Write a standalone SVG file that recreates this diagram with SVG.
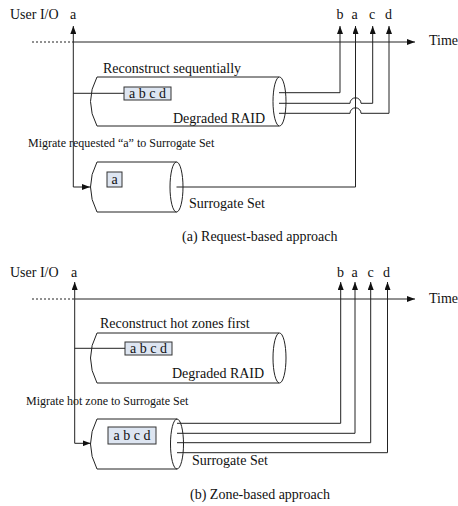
<svg xmlns="http://www.w3.org/2000/svg" width="458" height="506" viewBox="0 0 458 506" font-family="'Liberation Serif', 'Times New Roman', serif">
<defs>
<marker id="ah" viewBox="0 0 8 6" refX="8" refY="3" markerWidth="8" markerHeight="6" markerUnits="userSpaceOnUse" orient="auto">
<path d="M0,0 L8,3 L0,6 Z" fill="#111"/>
</marker>
</defs>
<style>
text{font-family:'Liberation Serif','Times New Roman',serif;fill:#111;font-size:14px}
.sm{font-size:12px}
.cyl{fill:none;stroke:#222;stroke-width:1}
.box{fill:#dde5f1;stroke:#333;stroke-width:1}
.ln{fill:none;stroke:#222;stroke-width:1}
.ar{fill:none;stroke:#222;stroke-width:1;marker-end:url(#ah)}
.dash{fill:none;stroke:#222;stroke-width:1;stroke-dasharray:2,2}
</style>
<rect width="458" height="506" fill="#fff"/>

<!-- Panel (a) -->
<g id="labels-a">
<text x="10" y="19">User I/O</text>
<text x="70" y="19">a</text>
<text x="336.5" y="19">b</text>
<text x="351.5" y="19">a</text>
<text x="369" y="19">c</text>
<text x="385" y="19">d</text>
<text x="429" y="45">Time</text>
<text class="sm" x="28" y="147">Migrate requested “a” to Surrogate Set</text>
<text x="182" y="241">(a) Request-based approach</text>
</g>

<g id="degraded-raid-a">
<path class="cyl" d="M279,77 L97,77 Q84,101.5 97,126 L279,126"/>
<ellipse class="cyl" cx="279.5" cy="101.5" rx="6.5" ry="24.5"/>
<text x="103" y="73">Reconstruct sequentially</text>
<text x="173" y="123">Degraded RAID</text>
<rect class="box" x="124" y="87" width="47" height="13"/>
<text x="147.5" y="98" text-anchor="middle">a b c d</text>
</g>

<g id="surrogate-set-a">
<path class="cyl" d="M176.5,162 L97,162 Q84,187 97,212 L176.5,212"/>
<ellipse class="cyl" cx="176.5" cy="187" rx="6.5" ry="25"/>
<rect class="box" x="107" y="172" width="15" height="15"/>
<text x="114.5" y="184" text-anchor="middle">a</text>
<text x="189" y="208">Surrogate Set</text>
</g>

<!-- Panel (b) -->
<g id="labels-b">
<text x="10" y="277">User I/O</text>
<text x="71" y="277">a</text>
<text x="337" y="277">b</text>
<text x="351.5" y="277">a</text>
<text x="367.5" y="277">c</text>
<text x="383" y="277">d</text>
<text x="429" y="303">Time</text>
<text class="sm" x="26" y="405">Migrate hot zone to Surrogate Set</text>
<text x="190" y="499">(b) Zone-based approach</text>
</g>

<g id="degraded-raid-b">
<path class="cyl" d="M279,333 L97,333 Q84,358 97,383 L279,383"/>
<ellipse class="cyl" cx="279.5" cy="358" rx="6.5" ry="25"/>
<text x="100" y="328">Reconstruct hot zones first</text>
<text x="172" y="378">Degraded RAID</text>
<rect class="box" x="125" y="342" width="47" height="13"/>
<text x="148.5" y="353" text-anchor="middle">a b c d</text>
</g>

<g id="surrogate-set-b">
<path class="cyl" d="M177,419 L97,419 Q84,444 97,469 L177,469"/>
<ellipse class="cyl" cx="177" cy="444" rx="6.5" ry="25"/>
<rect class="box" x="108" y="427" width="48" height="17"/>
<text x="132" y="440" text-anchor="middle">a b c d</text>
<text x="192" y="465">Surrogate Set</text>
</g>

<g id="connectors">
<!-- panel a -->
<line class="dash" x1="32" y1="42" x2="73.3" y2="42"/>
<line class="ar" x1="73.3" y1="42" x2="415" y2="42"/>
<line class="ar" x1="73.3" y1="60" x2="73.3" y2="26"/>
<polyline class="ar" points="73.3,60 73.3,187 90,187"/>
<line class="ln" x1="73.3" y1="93.3" x2="124" y2="93.3"/>
<polyline class="ar" points="279,92.7 340,92.7 340,26"/>
<path class="ar" d="M279,103.3 L350,103.3 A5.5,5.5 0 0 1 361,103.3 L372.7,103.3 L372.7,26"/>
<path class="ar" d="M279,113.3 L350,113.3 A5.5,5.5 0 0 1 361,113.3 L389,113.3 L389,26"/>
<polyline class="ar" points="176.5,187 355.5,187 355.5,26"/>
<!-- panel b -->
<line class="dash" x1="32" y1="299" x2="74.7" y2="299"/>
<line class="ar" x1="74.7" y1="299" x2="415" y2="299"/>
<line class="ar" x1="74.7" y1="320" x2="74.7" y2="282"/>
<polyline class="ar" points="74.7,320 74.7,443.3 90.5,443.3"/>
<line class="ln" x1="74.7" y1="348.3" x2="125" y2="348.3"/>
<polyline class="ar" points="177,423.3 340.7,423.3 340.7,282"/>
<polyline class="ar" points="177,433.3 355,433.3 355,282"/>
<polyline class="ar" points="177,442.7 370.7,442.7 370.7,282"/>
<polyline class="ar" points="177,452.7 387.5,452.7 387.5,282"/>
</g>
</svg>
